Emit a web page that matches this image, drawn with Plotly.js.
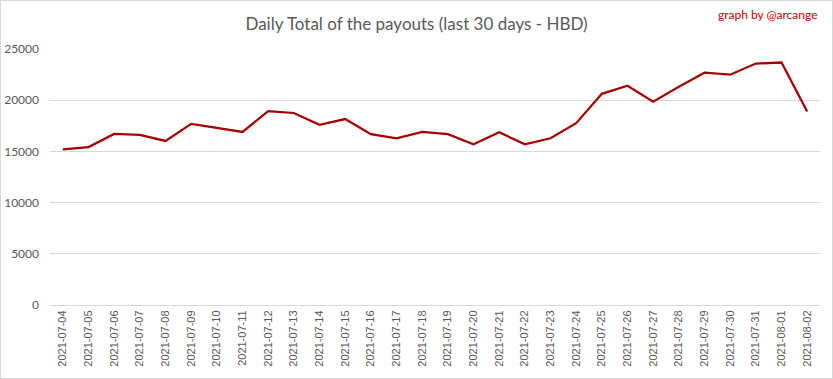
<!DOCTYPE html>
<html>
<head>
<meta charset="utf-8">
<script src="https://cdn.plot.ly/plotly-3.0.1.min.js"></script>
<style>
html,body{margin:0;padding:0;background:#fff;}
#chart{width:833px;height:379px;}
#frame{position:absolute;left:0;top:0;width:831px;height:377px;border:1px solid #d9d9d9;pointer-events:none;}
</style>
</head>
<body>
<div id="chart"></div>
<div id="frame"></div>
<script>
const dates = ["2021-07-04","2021-07-05","2021-07-06","2021-07-07","2021-07-08","2021-07-09","2021-07-10","2021-07-11","2021-07-12","2021-07-13","2021-07-14","2021-07-15","2021-07-16","2021-07-17","2021-07-18","2021-07-19","2021-07-20","2021-07-21","2021-07-22","2021-07-23","2021-07-24","2021-07-25","2021-07-26","2021-07-27","2021-07-28","2021-07-29","2021-07-30","2021-07-31","2021-08-01","2021-08-02"];
const payouts = [15200,15420,16710,16610,16020,17690,17300,16900,18940,18750,17590,18160,16680,16280,16900,16690,15690,16870,15690,16280,17760,20620,21410,19860,21310,22690,22490,23580,23680,18900];
const yTicks = [0,5000,10000,15000,20000,25000];
const titleText = "Daily Total of the payouts (last 30 days - HBD)";
const creditText = "graph by @arcange";

const data = [{
  x: dates,
  y: payouts,
  type: "scatter",
  mode: "lines",
  line: {color: "#a50000", width: 2.25},
  hoverinfo: "x+y"
}];

const layout = {
  width: 833,
  height: 379,
  margin: {l: 50, r: 13, t: 49, b: 74},
  paper_bgcolor: "#ffffff",
  plot_bgcolor: "#ffffff",
  showlegend: false,
  title: {
    text: titleText,
    x: 0.5, xanchor: "center",
    y: 0.936, yanchor: "middle",
    yref: "container",
    font: {family: "Lato, 'Open Sans', sans-serif", size: 17, color: "#595959"}
  },
  xaxis: {
    type: "category",
    tickvals: dates,
    ticktext: dates,
    tickangle: -90,
    showgrid: false,
    showline: true,
    linecolor: "#d9d9d9",
    linewidth: 1,
    ticks: "",
    tickfont: {family: "'Liberation Sans', Arial, sans-serif", size: 11, color: "#595959"},
    range: [-0.5, dates.length - 0.5],
    fixedrange: true
  },
  yaxis: {
    range: [0, 25000],
    tickvals: yTicks,
    ticktext: yTicks.map(String),
    showgrid: true,
    gridcolor: "#d9d9d9",
    gridwidth: 1,
    zeroline: false,
    showline: false,
    ticks: "",
    ticklabelstandoff: 10,
    tickfont: {family: "Lato, 'Open Sans', sans-serif", size: 12, color: "#595959"},
    fixedrange: true
  },
  annotations: [{
    text: creditText,
    xref: "paper", yref: "paper",
    x: 1.0, y: 1.133,
    xanchor: "right", yanchor: "middle",
    showarrow: false,
    font: {family: "Lato, 'Open Sans', sans-serif", size: 12, color: "#c00000"}
  }]
};

Plotly.newPlot("chart", data, layout, {displayModeBar: false, staticPlot: true});
</script>
</body>
</html>
